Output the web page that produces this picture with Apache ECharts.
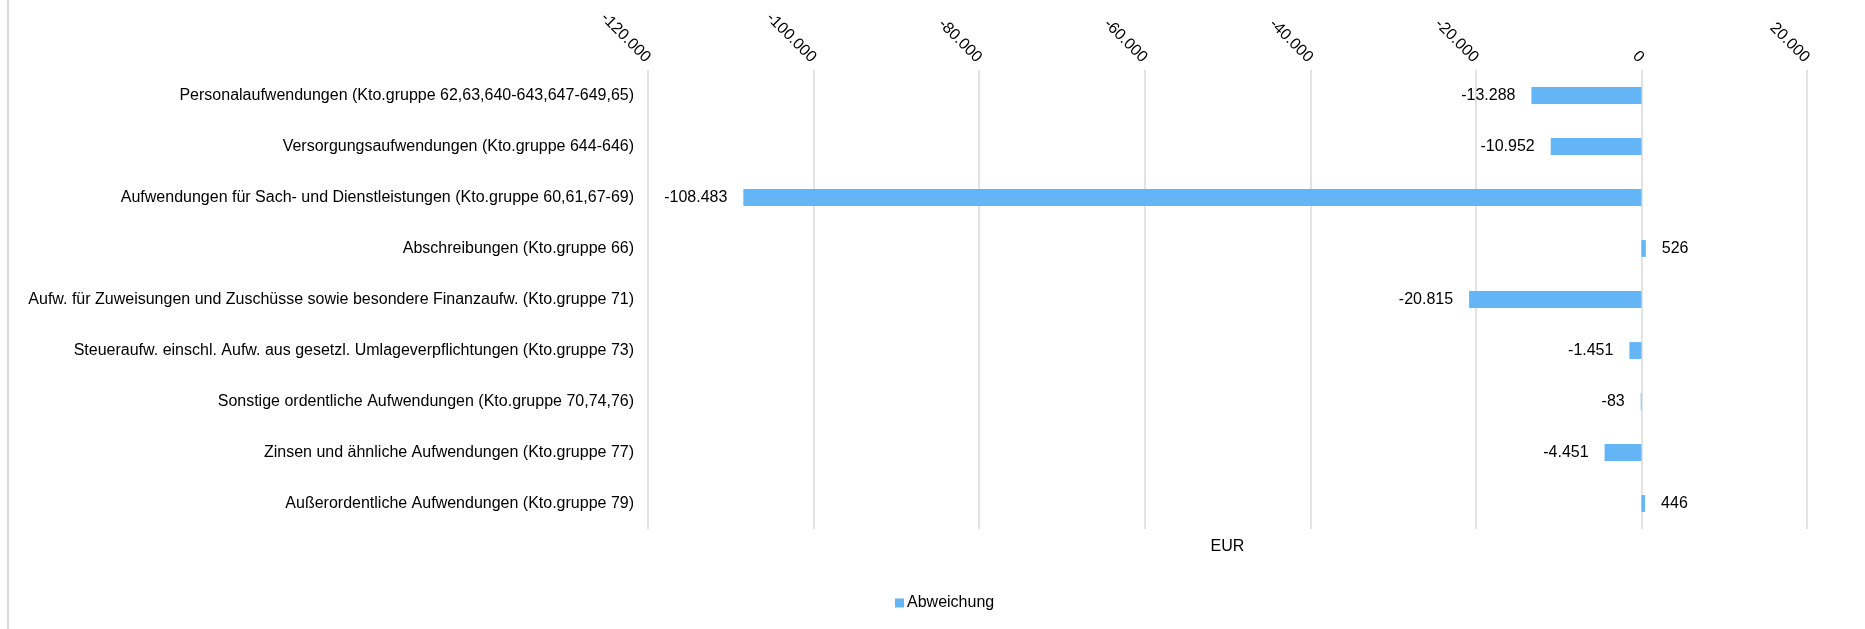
<!DOCTYPE html>
<html>
<head>
<meta charset="utf-8">
<script src="https://cdn.jsdelivr.net/npm/echarts@6/dist/echarts.min.js"></script>
<style>html,body{margin:0;padding:0;background:#fff}#c{width:1865px;height:629px}</style>
</head>
<body>
<div id="c"></div>
<script>
const categories = [
  "Personalaufwendungen (Kto.gruppe 62,63,640-643,647-649,65)",
  "Versorgungsaufwendungen (Kto.gruppe 644-646)",
  "Aufwendungen für Sach- und Dienstleistungen (Kto.gruppe 60,61,67-69)",
  "Abschreibungen (Kto.gruppe 66)",
  "Aufw. für Zuweisungen und Zuschüsse sowie besondere Finanzaufw. (Kto.gruppe 71)",
  "Steueraufw. einschl. Aufw. aus gesetzl. Umlageverpflichtungen (Kto.gruppe 73)",
  "Sonstige ordentliche Aufwendungen (Kto.gruppe 70,74,76)",
  "Zinsen und ähnliche Aufwendungen (Kto.gruppe 77)",
  "Außerordentliche Aufwendungen (Kto.gruppe 79)"
];
const abweichung = [-13288, -10952, -108483, 526, -20815, -1451, -83, -4451, 446];
const seriesName = "Abweichung";
const axisName = "EUR";
const axisMin = -120000, axisMax = 20000, axisStep = 20000;

function fmt(v) {
  const s = Math.abs(Math.round(v)).toString().replace(/\B(?=(\d{3})+(?!\d))/g, ".");
  return (v < 0 ? "-" : "") + s;
}
const FONT = "'Liberation Sans', Arial, sans-serif";
const FS = 16;
const chart = echarts.init(document.getElementById('c'), null, {renderer: 'canvas'});
chart.setOption({
  animation: false,
  backgroundColor: '#fff',
  textStyle: {fontFamily: FONT},
  grid: {left: 648, right: 58, top: 70, bottom: 100, containLabel: false},
  xAxis: [{
    type: 'value', position: 'top', min: axisMin, max: axisMax, interval: axisStep,
    axisLine: {show: false}, axisTick: {show: false},
    axisLabel: {rotate: 45, margin: 10, fontSize: FS, color: '#000', fontFamily: FONT, formatter: fmt},
    splitLine: {show: true, lineStyle: {color: '#d9d9d9', width: 1.5}}
  }, {
    type: 'value', position: 'bottom', min: axisMin, max: axisMax, interval: axisStep,
    axisLine: {show: false}, axisTick: {show: false}, axisLabel: {show: false}, splitLine: {show: false},
    name: axisName, nameLocation: 'middle', nameGap: 10,
    nameTextStyle: {fontSize: FS, color: '#000', fontFamily: FONT, verticalAlign: 'top'}
  }],
  yAxis: {
    type: 'category', data: categories, inverse: true,
    axisLine: {show: false}, axisTick: {show: false},
    axisLabel: {fontSize: FS, color: '#000', margin: 14, fontFamily: FONT}
  },
  legend: {
    data: [seriesName], left: 890, top: 590, icon: 'rect', itemWidth: 9, itemHeight: 9,
    textStyle: {fontSize: FS, color: '#000', fontFamily: FONT, padding: [0,0,0,-2]}
  },
  series: [{
    name: seriesName, type: 'bar', xAxisIndex: 0, barWidth: '33%',
    itemStyle: {color: '#64b5f6'},
    data: abweichung.map(v => ({
      value: v,
      label: {show: true, position: v < 0 ? 'left' : 'right', distance: 16,
        fontSize: FS, color: '#000', fontFamily: FONT, formatter: p => fmt(p.value)}
    }))
  }],
  graphic: [{type: 'line', shape: {x1: 8, y1: 0, x2: 8, y2: 629}, style: {stroke: '#d9d9d9', lineWidth: 2}}]
});
</script>
</body>
</html>
